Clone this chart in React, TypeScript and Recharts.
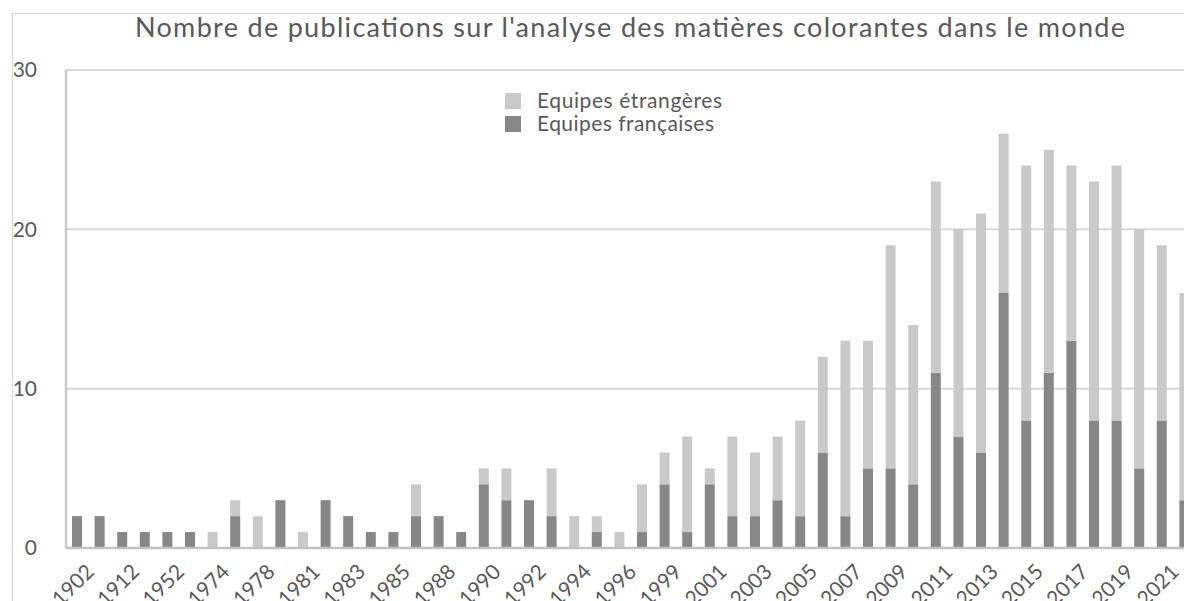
import React from 'react';
import { BarChart, Bar, XAxis, YAxis, CartesianGrid } from 'recharts';

const years = [
  '1902', '1905', '1912', '1930', '1952', '1965', '1974', '1976', '1978', '1980',
  '1981', '1982', '1983', '1984', '1985', '1986', '1988', '1989', '1990', '1991',
  '1992', '1993', '1994', '1995', '1996', '1998', '1999', '2000', '2001', '2002',
  '2003', '2004', '2005', '2006', '2007', '2008', '2009', '2010', '2011', '2012',
  '2013', '2014', '2015', '2016', '2017', '2018', '2019', '2020', '2021', '2022',
];

const equipesFrancaises = [
  2, 2, 1, 1, 1, 1, 0, 2, 0, 3,
  0, 3, 2, 1, 1, 2, 2, 1, 4, 3,
  3, 2, 0, 1, 0, 1, 4, 1, 4, 2,
  2, 3, 2, 6, 2, 5, 5, 4, 11, 7,
  6, 16, 8, 11, 13, 8, 8, 5, 8, 3,
];

const equipesEtrangeres = [
  0, 0, 0, 0, 0, 0, 1, 1, 2, 0,
  1, 0, 0, 0, 0, 2, 0, 0, 1, 2,
  0, 3, 2, 1, 1, 3, 2, 6, 1, 5,
  4, 4, 6, 6, 11, 8, 14, 10, 12, 13,
  15, 10, 16, 14, 11, 15, 16, 15, 11, 13,
];

const yTicks = [0, 10, 20, 30];

const TITLE = "Nombre de publications sur l'analyse des matières colorantes dans le monde";
const LABEL_ETR = 'Equipes étrangères';
const LABEL_FR = 'Equipes françaises';

const COLOR_ETR = '#c9c9c9';
const COLOR_FR = '#878787';
const TEXT = '#595959';
const FONT = 'Lato, "Open Sans", sans-serif';

const data = years.map((y, i) => ({
  year: y,
  fr: equipesFrancaises[i],
  etr: equipesEtrangeres[i],
}));

const XTick = (props: any) => {
  const { x, y, payload } = props;
  const ax = x + 18;
  const ay = y + 25;
  return (
    <text
      x={ax}
      y={ay}
      transform={`rotate(-45 ${ax} ${ay})`}
      textAnchor="end"
      fontSize={21}
      fontFamily={FONT}
      fill={TEXT}
    >
      {payload.value}
    </text>
  );
};

export default function App() {
  return (
    <div
      style={{
        position: 'absolute',
        left: 0,
        top: 0,
        width: 1184,
        height: 601,
        overflow: 'hidden',
        background: '#ffffff',
      }}
    >
      <BarChart
        width={1250}
        height={601}
        data={data}
        margin={{ top: 70, right: 54, left: 0, bottom: 0 }}
        barSize={10}
      >
        <CartesianGrid vertical={false} stroke="#d9d9d9" strokeWidth={2} />
        <XAxis
          dataKey="year"
          interval={1}
          tickLine={false}
          tickSize={0}
          tickMargin={0}
          height={53}
          axisLine={{ stroke: '#c2c2c2', strokeWidth: 2.5 }}
          tick={<XTick />}
        />
        <YAxis
          domain={[0, 30]}
          ticks={yTicks}
          width={66}
          tickLine={false}
          tickSize={0}
          tickMargin={29}
          axisLine={{ stroke: '#c8c8c8', strokeWidth: 2.5 }}
          tick={{ fill: TEXT, fontSize: 21, fontFamily: FONT }}
        />
        <Bar dataKey="fr" name={LABEL_FR} stackId="a" fill={COLOR_FR} isAnimationActive={false} />
        <Bar dataKey="etr" name={LABEL_ETR} stackId="a" fill={COLOR_ETR} isAnimationActive={false} />
      </BarChart>
      <svg
        width={1184}
        height={601}
        style={{ position: 'absolute', left: 0, top: 0, pointerEvents: 'none' }}
      >
        <line x1={12.5} y1={13} x2={12.5} y2={601} stroke="#d9d9d9" strokeWidth={1} />
        <line x1={12} y1={13.5} x2={1184} y2={13.5} stroke="#d9d9d9" strokeWidth={1} />
        <text
          x={135}
          y={37}
          fontSize={27}
          fontFamily={FONT}
          fill={TEXT}
          textLength={990}
          lengthAdjust="spacing"
        >
          {TITLE}
        </text>
        <rect x={505} y={93} width={16} height={16} fill={COLOR_ETR} />
        <rect x={505} y={116} width={16} height={16} fill={COLOR_FR} />
        <text
          x={537}
          y={108}
          fontSize={21}
          fontFamily={FONT}
          fill={TEXT}
          textLength={185}
          lengthAdjust="spacing"
        >
          {LABEL_ETR}
        </text>
        <text
          x={537}
          y={131}
          fontSize={21}
          fontFamily={FONT}
          fill={TEXT}
          textLength={177}
          lengthAdjust="spacing"
        >
          {LABEL_FR}
        </text>
      </svg>
    </div>
  );
}
